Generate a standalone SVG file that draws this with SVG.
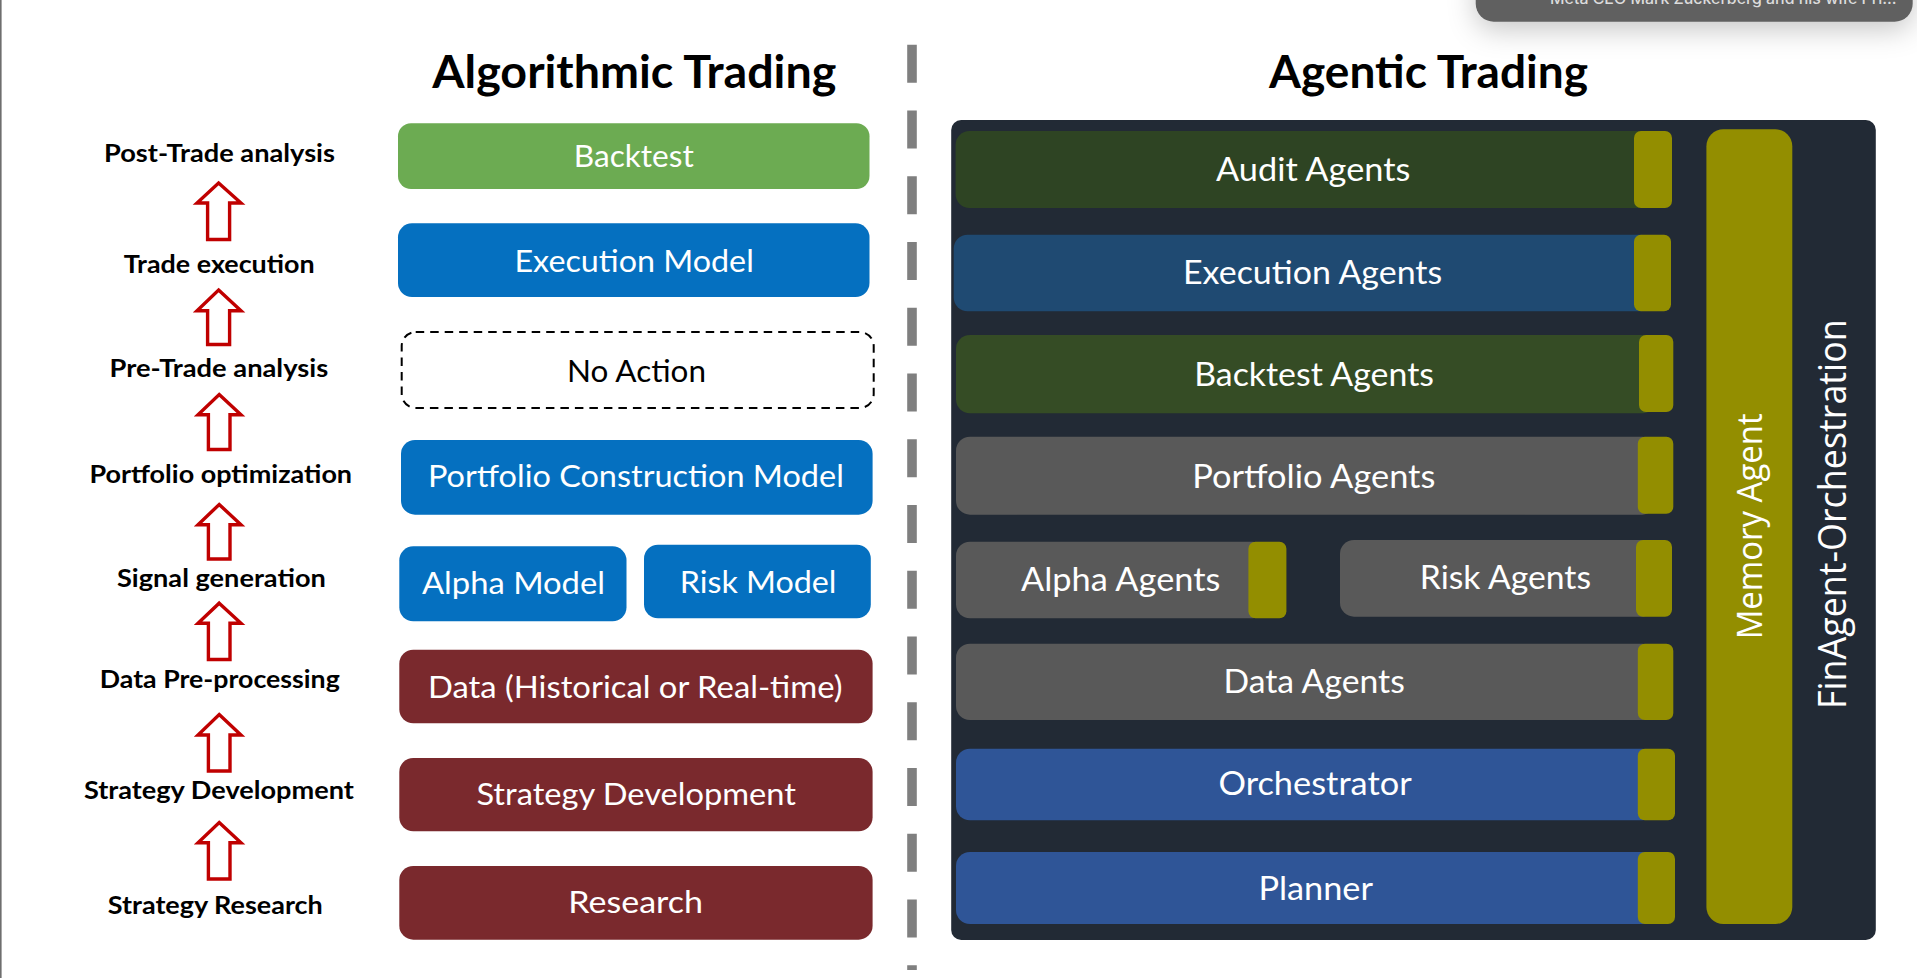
<svg xmlns="http://www.w3.org/2000/svg" width="1917" height="978" viewBox="0 0 1917 978">
<style>
text{font-family:"Lato","Liberation Sans",sans-serif}
.title{font-size:45.5px;font-weight:700;fill:#000}
.step{font-size:25.5px;font-weight:700;fill:#000}
.box{font-size:31px;fill:#fff}
.agent{font-size:33.5px;fill:#fff}
.wide{font-family:"Open Sans","Liberation Sans",sans-serif;fill:#fff}
.green{fill:#6cab52}.blue{fill:#0570c0}.red{fill:#7a292d}
.tab{fill:#938e00}.gray{fill:#595959}.royal{fill:#2f5597}
.arrow{fill:#fff;stroke:#c00000;stroke-width:3.4;stroke-linejoin:miter}
</style>
<defs>
<filter id="shadow" x="-10%" y="-100%" width="120%" height="400%"><feDropShadow dx="0" dy="8" stdDeviation="14" flood-color="#000" flood-opacity="0.22"/></filter>
</defs>
<rect width="1917" height="978" fill="#fff"/>
<rect id="window-edge" x="0" y="0" width="1.6" height="978" fill="#6e6e6e"/>
<line id="divider" x1="912" y1="44.7" x2="912" y2="970" stroke="#7f7f7f" stroke-width="9.6" stroke-dasharray="38 27.75"/>
<g id="connectors">
<polygon class="arrow" points="218.6,183 241,203 229.6,203 229.6,239.5 207.6,239.5 207.6,203 197,203"/>
<polygon class="arrow" points="218.6,290 241,310.7 229.6,310.7 229.6,344.5 207.6,344.5 207.6,310.7 197,310.7"/>
<polygon class="arrow" points="219.2,394.5 241,414.7 230,414.7 230,449.5 208.4,449.5 208.4,414.7 198,414.7"/>
<polygon class="arrow" points="219.2,504.5 241,524.7 230,524.7 230,559 208.4,559 208.4,524.7 198,524.7"/>
<polygon class="arrow" points="219.2,603.2 241,623.3 230,623.3 230,659.5 208.4,659.5 208.4,623.3 198,623.3"/>
<polygon class="arrow" points="219.2,714.5 241,735 230,735 230,771 208.4,771 208.4,735 198,735"/>
<polygon class="arrow" points="219.2,822.5 241,842.7 230,842.7 230,879 208.4,879 208.4,842.7 198,842.7"/>
</g>
<g id="titles">
<text class="title" x="432.3" y="88.3" textLength="404" lengthAdjust="spacingAndGlyphs">Algorithmic Trading</text>
<text class="title" x="1269" y="88.3" textLength="319" lengthAdjust="spacingAndGlyphs">Agentic Trading</text>
</g>
<g id="steps">
<text class="step" x="104" y="161.7" textLength="231" lengthAdjust="spacingAndGlyphs">Post-Trade analysis</text>
<text class="step" x="123.7" y="273.3" textLength="191" lengthAdjust="spacingAndGlyphs">Trade execution</text>
<text class="step" x="109.6" y="376.7" textLength="218.6" lengthAdjust="spacingAndGlyphs">Pre-Trade analysis</text>
<text class="step" x="89.4" y="483.3" textLength="262.7" lengthAdjust="spacingAndGlyphs">Portfolio optimization</text>
<text class="step" x="117" y="586.7" textLength="208.8" lengthAdjust="spacingAndGlyphs">Signal generation</text>
<text class="step" x="99.8" y="688" textLength="240" lengthAdjust="spacingAndGlyphs">Data Pre-processing</text>
<text class="step" x="83.9" y="799.3" textLength="270" lengthAdjust="spacingAndGlyphs">Strategy Development</text>
<text class="step" x="107.8" y="913.7" textLength="215" lengthAdjust="spacingAndGlyphs">Strategy Research</text>
</g>
<g id="algo-backtest"><rect class="green" x="398" y="123.3" width="471.5" height="65.7" rx="13"/><text class="box" x="573.8" y="166.7" textLength="120" lengthAdjust="spacingAndGlyphs">Backtest</text></g>
<g id="algo-execution"><rect class="blue" x="398" y="223.3" width="471.5" height="73.7" rx="14"/><text class="box" x="514.4" y="271.7" textLength="239.4" lengthAdjust="spacingAndGlyphs">Execution Model</text></g>
<g id="algo-noaction"><rect x="401.7" y="332" width="472" height="76" rx="14" fill="#fff" stroke="#000" stroke-width="2" stroke-dasharray="8.5 6"/><text class="box" style="fill:#000" x="567" y="381.7" textLength="139" lengthAdjust="spacingAndGlyphs">No Action</text></g>
<g id="algo-portfolio"><rect class="blue" x="401" y="440" width="471.6" height="74.7" rx="14"/><text class="box" x="428" y="486.7" textLength="415.8" lengthAdjust="spacingAndGlyphs">Portfolio Construction Model</text></g>
<g id="algo-alpha"><rect class="blue" x="399.3" y="546.3" width="227.2" height="75" rx="14"/><text class="box" x="422" y="594" textLength="183" lengthAdjust="spacingAndGlyphs">Alpha Model</text></g>
<g id="algo-risk"><rect class="blue" x="644" y="544.7" width="226.8" height="73.6" rx="14"/><text class="box" x="679.7" y="593" textLength="156.8" lengthAdjust="spacingAndGlyphs">Risk Model</text></g>
<g id="algo-data"><rect class="red" x="399.3" y="649.7" width="473.3" height="73.6" rx="14"/><text class="box" x="428" y="698" textLength="414.6" lengthAdjust="spacingAndGlyphs">Data (Historical or Real-time)</text></g>
<g id="algo-strategy"><rect class="red" x="399.3" y="758" width="473.3" height="73.3" rx="14"/><text class="box" x="476.4" y="805.3" textLength="319.6" lengthAdjust="spacingAndGlyphs">Strategy Development</text></g>
<g id="algo-research"><rect class="red" x="399.3" y="866" width="473.3" height="73.7" rx="14"/><text class="box" x="568.3" y="913.3" textLength="134.7" lengthAdjust="spacingAndGlyphs">Research</text></g>
<g id="agentic-panel"><rect x="951.2" y="120" width="924.6" height="820" rx="10" fill="#222a35"/>
<text class="wide" font-size="38" transform="translate(1845.7 709) rotate(-90)" textLength="389.7" lengthAdjust="spacingAndGlyphs">FinAgent-Orchestration</text></g>
<g id="memory-agent"><rect class="tab" x="1706.4" y="129.3" width="85.9" height="794.7" rx="17"/>
<text class="wide" font-size="35" transform="translate(1761.7 639.3) rotate(-90)" textLength="226" lengthAdjust="spacingAndGlyphs">Memory Agent</text></g>
<g id="audit-agents"><rect x="955.6" y="131" width="700" height="77" rx="14" fill="#2e4423"/><rect class="tab" x="1634" y="131" width="38" height="77" rx="7"/><text class="agent" x="1216" y="181" textLength="194.4" lengthAdjust="spacingAndGlyphs">Audit Agents</text></g>
<g id="execution-agents"><rect x="953.7" y="234.7" width="700" height="76.6" rx="14" fill="#1f4a72"/><rect class="tab" x="1634" y="234.7" width="37" height="76.6" rx="7"/><text class="agent" x="1183" y="284.3" textLength="259.2" lengthAdjust="spacingAndGlyphs">Execution Agents</text></g>
<g id="backtest-agents"><rect x="956" y="335" width="700" height="78.3" rx="14" fill="#354c25"/><rect class="tab" x="1639" y="335" width="34.3" height="77" rx="7"/><text class="agent" x="1194.2" y="386" textLength="239.8" lengthAdjust="spacingAndGlyphs">Backtest Agents</text></g>
<g id="portfolio-agents"><rect class="gray" x="956" y="436.7" width="700" height="78" rx="14"/><rect class="tab" x="1637.8" y="436.7" width="35.5" height="77" rx="7"/><text class="agent" x="1192.3" y="487.7" textLength="243" lengthAdjust="spacingAndGlyphs">Portfolio Agents</text></g>
<g id="alpha-agents"><rect class="gray" x="956" y="541.7" width="310" height="76.6" rx="14"/><rect class="tab" x="1248.4" y="541.7" width="38" height="76.6" rx="7"/><text class="agent" x="1021" y="590.7" textLength="199.4" lengthAdjust="spacingAndGlyphs">Alpha Agents</text></g>
<g id="risk-agents"><rect class="gray" x="1340" y="540" width="316" height="76.7" rx="14"/><rect class="tab" x="1636" y="540" width="36" height="76.7" rx="7"/><text class="agent" x="1419.8" y="589" textLength="171.2" lengthAdjust="spacingAndGlyphs">Risk Agents</text></g>
<g id="data-agents"><rect class="gray" x="956" y="643.7" width="700" height="76.3" rx="14"/><rect class="tab" x="1637.8" y="643.7" width="35.5" height="76.3" rx="7"/><text class="agent" x="1223.5" y="692.7" textLength="181.3" lengthAdjust="spacingAndGlyphs">Data Agents</text></g>
<g id="orchestrator"><rect class="royal" x="956" y="748.7" width="700" height="71.6" rx="14"/><rect class="tab" x="1637.8" y="748.7" width="37.2" height="71.6" rx="7"/><text class="agent" x="1218.5" y="794.7" textLength="193.2" lengthAdjust="spacingAndGlyphs">Orchestrator</text></g>
<g id="planner"><rect class="royal" x="956" y="852" width="700" height="72" rx="14"/><rect class="tab" x="1637.8" y="852" width="37.2" height="72" rx="7"/><text class="agent" x="1258.4" y="899.7" textLength="114.6" lengthAdjust="spacingAndGlyphs">Planner</text></g>
<g id="notification"><rect x="1475.7" y="-40" width="437" height="61.7" rx="18" fill="#606060" filter="url(#shadow)"/><text x="1550" y="3.5" font-size="15" style="font-family:Inter,'Liberation Sans',sans-serif;font-weight:500" fill="#dcdcdc" textLength="346.7" lengthAdjust="spacingAndGlyphs">Meta CEO Mark Zuckerberg and his wife Pri...</text></g>
</svg>
